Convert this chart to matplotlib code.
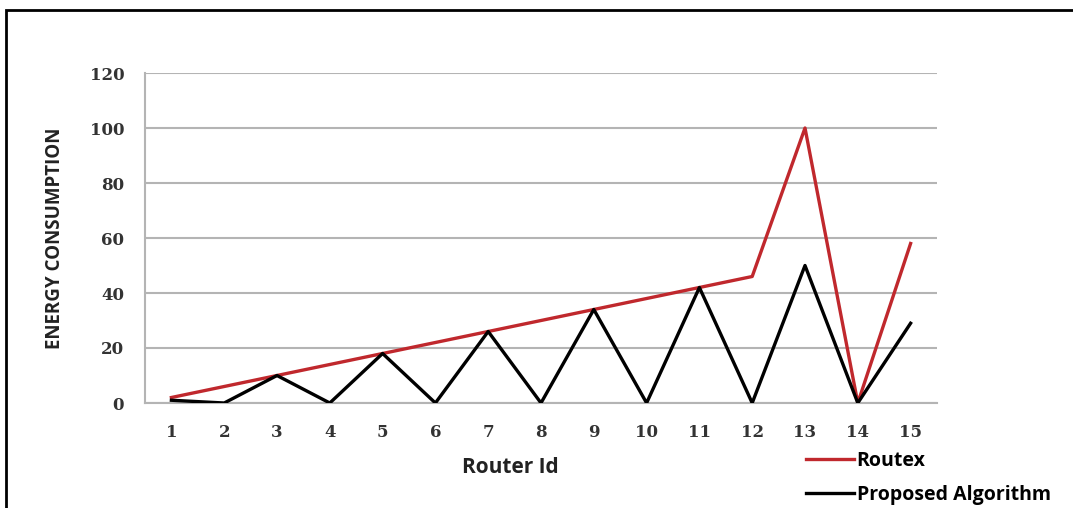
import matplotlib.pyplot as plt
from matplotlib.patches import Rectangle

router_ids = list(range(1, 16))
routex = [2, 6, 10, 14, 18, 22, 26, 30, 34, 38, 42, 46, 100, 0, 58]
proposed = [1, 0, 10, 0, 18, 0, 26, 0, 34, 0, 42, 0, 50, 0, 29]
y_ticks = [0, 20, 40, 60, 80, 100, 120]

W, H = 1073, 508
fig = plt.figure(figsize=(W / 100, H / 100), dpi=100)
ax = fig.add_axes([145 / W, 1 - 403 / H, (937 - 145) / W, (403 - 73) / H])

# outer frame (only left and top edges show in the picture)
fig.patches.append(Rectangle((6 / W, -0.05), 1.2, 1 - 10 / H + 0.05,
                             transform=fig.transFigure, fill=False,
                             edgecolor='black', linewidth=2))

ax.plot(router_ids, routex, color='#c0282d', linewidth=2.4, label='Routex', zorder=3)
ax.plot(router_ids, proposed, color='black', linewidth=2.4, label='Proposed Algorithm', zorder=4)

ax.set_xlim(0.5, 15.5)
ax.set_ylim(0, 120)
ax.set_yticks(y_ticks)
ax.set_xticks(router_ids)
ax.yaxis.grid(True, color='#b4b4b4', linewidth=1.5)
ax.set_axisbelow(True)
for s in ['top', 'right']:
    ax.spines[s].set_visible(False)
for s in ['left', 'bottom']:
    ax.spines[s].set_color('#b4b4b4')
    ax.spines[s].set_linewidth(1.5)
ax.tick_params(length=0)
for lab in ax.get_xticklabels() + ax.get_yticklabels():
    lab.set_fontfamily('DejaVu Serif')
    lab.set_fontweight('bold')
    lab.set_fontsize(12)
    lab.set_color('#333333')
ax.tick_params(axis='x', pad=15)
ax.tick_params(axis='y', pad=15)

ax.set_ylabel('ENERGY CONSUMPTION', fontfamily='Open Sans', fontweight='bold',
              fontsize=13.5, color='#222222', labelpad=18)
ax.set_xlabel('Router Id', fontfamily='Open Sans', fontweight='bold',
              fontsize=15, color='#222222')
ax.xaxis.set_label_coords((510 - 145) / 792, -0.165, transform=ax.transAxes)

ax.legend(loc='upper left', bbox_to_anchor=(806 / W, 1 - 451 / H),
          bbox_transform=fig.transFigure, frameon=False, handlelength=2.45,
          handletextpad=0.15, labelspacing=0.7, borderpad=0, borderaxespad=0,
          prop={'family': 'Open Sans', 'weight': 'bold', 'size': 14})

fig.savefig('out.png', dpi=100)
